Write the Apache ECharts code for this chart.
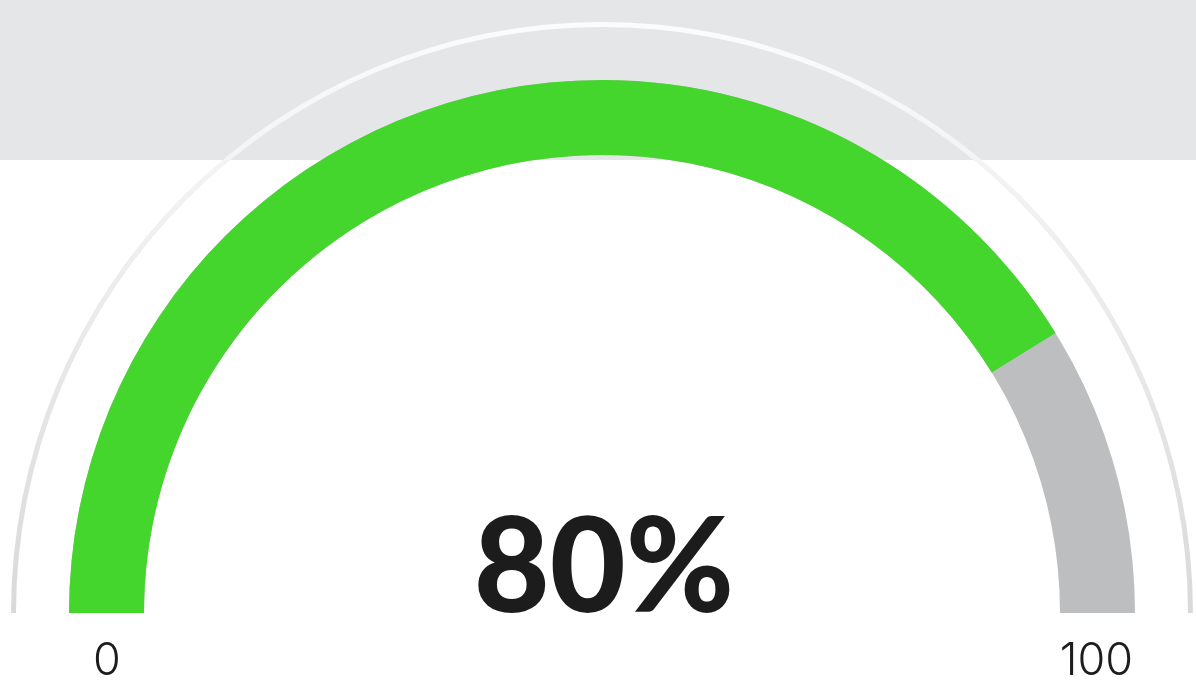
<!DOCTYPE html>
<html>
<head>
<meta charset="utf-8">
<style>
  html, body { margin: 0; padding: 0; background: #fff; }
  #chart { width: 1196px; height: 697px; }
</style>
<script src="https://cdn.jsdelivr.net/npm/echarts@6/dist/echarts.min.js"></script>
</head>
<body>
<div id="chart"></div>
<script>
// gauge data (arc as drawn in the picture, text as printed)
const arcValue = [82.4];
const shownValue = [80];
const gaugeMin = 0;
const gaugeMax = 100;

const colors = {
  progress: '#45d62e',
  track: '#bdbec0',
  band: '#e5e6e8',
  text: '#1c1c1c'
};

const chart = echarts.init(document.getElementById('chart'));

chart.setOption({
  backgroundColor: '#fff',
  animation: false,
  graphic: [{
    type: 'rect',
    z: -10,
    shape: { x: 0, y: 0, width: 1196, height: 160 },
    style: { fill: colors.band }
  }],
  series: [
    {
      // thin outer ring
      type: 'gauge',
      center: [602, 613],
      radius: 591,
      startAngle: 180,
      endAngle: 0,
      min: gaugeMin,
      max: gaugeMax,
      pointer: { show: false },
      axisTick: { show: false },
      splitLine: { show: false },
      axisLabel: { show: false },
      detail: { show: false },
      title: { show: false },
      axisLine: {
        lineStyle: {
          width: 5,
          color: [[1, new echarts.graphic.LinearGradient(0, 0, 0, 1, [
            { offset: 0, color: '#fcfcfc' },
            { offset: 1, color: '#d9d9d9' }
          ])]]
        }
      },
      data: []
    },
    {
      type: 'gauge',
      center: [602, 613],
      radius: 533,
      startAngle: 180,
      endAngle: 0,
      min: gaugeMin,
      max: gaugeMax,
      splitNumber: 1,
      pointer: { show: false },
      progress: {
        show: true,
        width: 75,
        roundCap: false,
        itemStyle: { color: colors.progress }
      },
      axisLine: {
        lineStyle: { width: 75, color: [[1, colors.track]] }
      },
      axisTick: { show: false },
      splitLine: { show: false, length: 0, distance: 0 },
      axisLabel: {
        distance: 2,
        color: colors.text,
        formatter: v => v === gaugeMin ? '{a|' + v + '}' : '{b|' + v + '}',
        rich: {
          a: {
            fontFamily: 'Inter',
            fontWeight: 300,
            fontSize: 45,
            color: colors.text,
            padding: [96, 0, 0, 22]
          },
          b: {
            fontFamily: 'Inter',
            fontWeight: 300,
            fontSize: 45,
            color: colors.text,
            padding: [96, 0, 0, 0]
          }
        }
      },
      title: { show: false },
      detail: {
        valueAnimation: false,
        offsetCenter: [2, -43],
        formatter: () => shownValue[0] + '%',
        fontFamily: 'Lato',
        fontWeight: 900,
        fontSize: 131,
        color: colors.text
      },
      data: [{ value: arcValue[0] }]
    }
  ]
});
</script>
</body>
</html>
